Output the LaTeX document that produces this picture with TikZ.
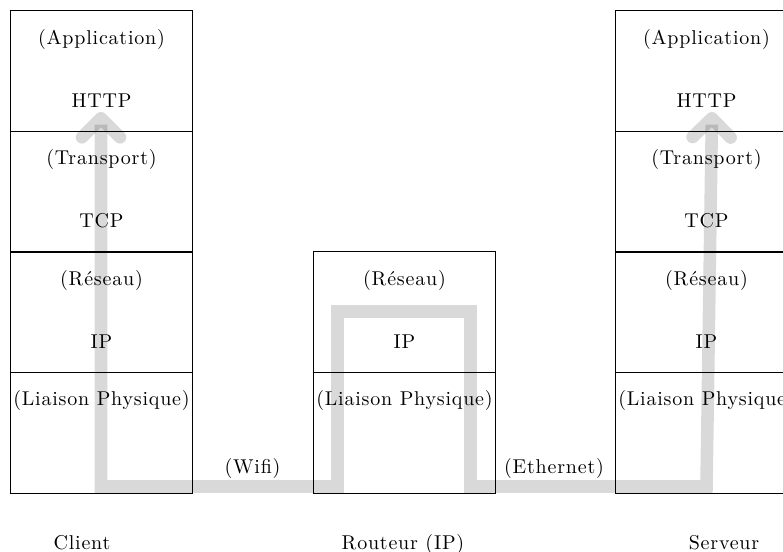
\documentclass[tikz,border=0pt]{standalone}
\usepackage{fontspec}
\setmainfont{lmroman10-regular.otf}[LetterSpace=4]
\usetikzlibrary{calc,arrows.meta}
\begin{document}
\begin{tikzpicture}[x=0.5pt,y=-0.5pt,
  layerbox/.style={draw, line width=0.5pt, minimum width=91pt, minimum height=60.5pt,
    inner sep=0pt, anchor=north west},
  txt/.style={inner sep=0pt, anchor=base},
  flow/.style={draw=black, draw opacity=0.15, line width=6.3pt, line join=miter,
    >={Straight Barb[length=9.5pt,width=19pt,round]}, <->}]
\useasboundingbox (0,0) rectangle (783,552);
\clip (0,0) rectangle (783,552);

% one layer of a protocol stack: name, x, y, upper text, lower text
\newcommand\stacklayer[5]{%
  \node[layerbox] (#1) at (#2,#3) {};
  \node[txt] (#1-a) at ($(#1.north)+(0,34)$) {#4};
  \node[txt] (#1-b) at ($(#1.north)+(0,97)$) {#5};
}

% client stack
\stacklayer{c1}{10}{10}{(Application)}{HTTP}
\stacklayer{c2}{10}{130.5}{(Transport)}{TCP}
\stacklayer{c3}{10}{251}{(Réseau)}{IP}
\stacklayer{c4}{10}{371.5}{(Liaison Physique)}{}

% router stack
\stacklayer{r3}{313}{251}{(Réseau)}{IP}
\stacklayer{r4}{313}{371.5}{(Liaison Physique)}{}

% server stack
\stacklayer{s1}{615}{10}{(Application)}{HTTP}
\stacklayer{s2}{615}{130.5}{(Transport)}{TCP}
\stacklayer{s3}{615}{251}{(Réseau)}{IP}
\stacklayer{s4}{615}{371.5}{(Liaison Physique)}{}

% links
\node[txt] (wifi) at (252.5,473) {(Wifi)};
\node[txt] (eth) at (554,473) {(Ethernet)};

% machine names
\node[txt] (client) at (82,549) {Client};
\node[txt] (router) at (403,549) {Routeur (IP)};
\node[txt] (server) at (724,549) {Serveur};

% path of a request through the layers
\coordinate (p0) at (101,112);
\coordinate (p1) at (101,486.5);
\coordinate (p2) at (337.5,486.5);
\coordinate (p3) at (337.5,311.5);
\coordinate (p4) at (470.5,311.5);
\coordinate (p5) at (470.5,486.5);
\coordinate (p6) at (706.5,486.5);
\coordinate (p7) at (712,112);
\draw[flow] (p0) -- (p1) -- (p2) -- (p3) -- (p4) -- (p5) -- (p6) -- (p7);
\end{tikzpicture}
\end{document}
